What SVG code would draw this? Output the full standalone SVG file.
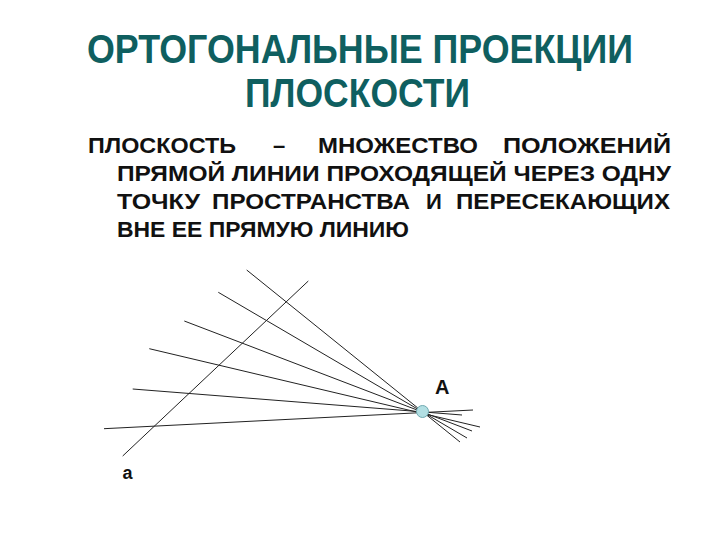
<svg xmlns="http://www.w3.org/2000/svg" width="720" height="540" viewBox="0 0 720 540">
<style>
.title{font-family:"Liberation Sans",Arial,sans-serif;font-weight:bold;font-size:40px;fill:#0f5f60}
.body{font-family:"Liberation Sans",Arial,sans-serif;font-weight:bold;font-size:22px;fill:#111}
.lbl{font-family:"Liberation Sans",Arial,sans-serif;font-weight:bold;fill:#111}
.ln{stroke:#222;stroke-width:1;fill:none}
</style>
<rect width="720" height="540" fill="#fff"/>
<g id="title">
<text class="title" x="87" y="63" textLength="546" lengthAdjust="spacingAndGlyphs">ОРТОГОНАЛЬНЫЕ ПРОЕКЦИИ</text>
<text class="title" x="245" y="107" textLength="225" lengthAdjust="spacingAndGlyphs">ПЛОСКОСТИ</text>
</g>
<g id="definition">
<text class="body" x="88" y="153" textLength="148" lengthAdjust="spacingAndGlyphs">ПЛОСКОСТЬ</text>
<text class="body" x="279" y="153" text-anchor="middle">–</text>
<text class="body" x="318" y="153" textLength="160" lengthAdjust="spacingAndGlyphs">МНОЖЕСТВО</text>
<text class="body" x="503" y="153" textLength="168" lengthAdjust="spacingAndGlyphs">ПОЛОЖЕНИЙ</text>
<text class="body" x="117" y="181" textLength="554" lengthAdjust="spacingAndGlyphs">ПРЯМОЙ ЛИНИИ ПРОХОДЯЩЕЙ ЧЕРЕЗ ОДНУ</text>
<text class="body" x="117" y="209" textLength="83" lengthAdjust="spacingAndGlyphs">ТОЧКУ</text>
<text class="body" x="212" y="209" textLength="198" lengthAdjust="spacingAndGlyphs">ПРОСТРАНСТВА</text>
<text class="body" x="434" y="209" text-anchor="middle">И</text>
<text class="body" x="456" y="209" textLength="214" lengthAdjust="spacingAndGlyphs">ПЕРЕСЕКАЮЩИХ</text>
<text class="body" x="117" y="237" textLength="292" lengthAdjust="spacingAndGlyphs">ВНЕ ЕЕ ПРЯМУЮ ЛИНИЮ</text>
</g>
<g id="connectors">
<line id="line-a" class="ln" x1="122.7" y1="456" x2="308.3" y2="281"/>
<line class="ln" x1="246.7" y1="270" x2="460" y2="442"/>
<line class="ln" x1="218.3" y1="292.3" x2="467" y2="438"/>
<line class="ln" x1="184.3" y1="321" x2="472" y2="431"/>
<line class="ln" x1="149.3" y1="348.7" x2="480" y2="427"/>
<line class="ln" x1="132.7" y1="389" x2="462" y2="415"/>
<line class="ln" x1="104" y1="428.7" x2="473" y2="410"/>
</g>
<g id="point-A">
<circle cx="422.5" cy="411.5" r="6" fill="#b2dfe3" stroke="#6fa9b0" stroke-width="1"/>
<text class="lbl" x="435" y="394" font-size="20">А</text>
</g>
<g id="label-a">
<text class="lbl" x="122.5" y="479" font-size="18">а</text>
</g>
</svg>
